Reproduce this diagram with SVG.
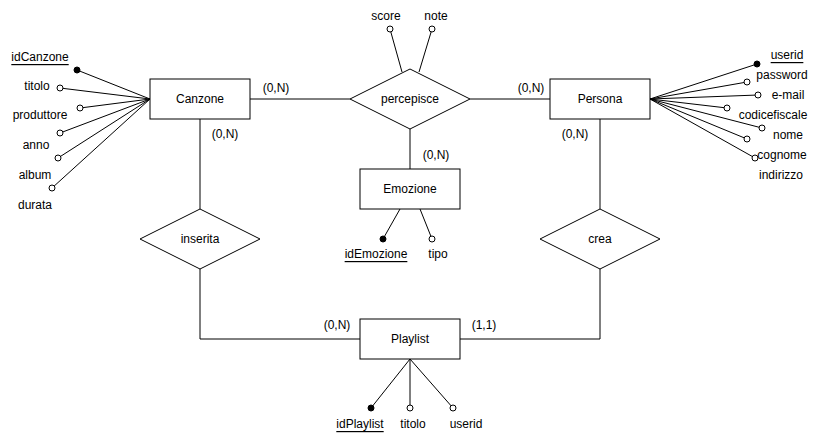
<svg xmlns="http://www.w3.org/2000/svg" width="817" height="439" viewBox="0 0 817 439">
<style>
.box{fill:#fff;stroke:#000;stroke-width:1}
.ln{fill:none;stroke:#000;stroke-width:1}
.t{font-family:"Liberation Sans",Arial,sans-serif;font-size:12px;fill:#000;text-anchor:middle;dominant-baseline:central}
.u{text-decoration:underline}
.o{fill:#fff;stroke:#000;stroke-width:1}
.f{fill:#000;stroke:#000;stroke-width:1}
</style>
<rect width="817" height="439" fill="#fff"/>
<g id="connectors">
<path class="ln" d="M250,99H350M470,99H550M410,129V169M200,119V209M200,269V339H360M600,119V209M600,269V339H460"/>
<path class="ln" d="M150,99L77,70M150,99L60,88M150,99L80,108M150,99L60,133M150,99L58,158M150,99L52,188"/>
<path class="ln" d="M650,99L757,64M650,99L747,82M650,99L758,95M650,99L727,108M650,99L762,128M650,99L747,139M650,99L755,158"/>
<path class="ln" d="M402,72L390,29M419,72L432,29"/>
<path class="ln" d="M400,209L383,239M420,209L432,239"/>
<path class="ln" d="M410,359L371,408M410,359L410,408M410,359L453,408"/>
<text class="t" x="276" y="88">(0,N)</text>
<text class="t" x="531" y="88">(0,N)</text>
<text class="t" x="436" y="155">(0,N)</text>
<text class="t" x="225" y="134">(0,N)</text>
<text class="t" x="575" y="134">(0,N)</text>
<text class="t" x="337" y="325">(0,N)</text>
<text class="t" x="484" y="325">(1,1)</text>
</g>
<g id="canzone">
<rect class="box" x="150" y="79" width="100" height="40"/>
<text class="t" x="200" y="99">Canzone</text>
<circle class="f" cx="77" cy="70" r="3"/>
<circle class="o" cx="60" cy="88" r="3"/>
<circle class="o" cx="80" cy="108" r="3"/>
<circle class="o" cx="60" cy="133" r="3"/>
<circle class="o" cx="58" cy="158" r="3"/>
<circle class="o" cx="52" cy="188" r="3"/>
<text class="t u" x="40" y="57">idCanzone</text>
<text class="t" x="37" y="86">titolo</text>
<text class="t" x="40" y="115">produttore</text>
<text class="t" x="36" y="145">anno</text>
<text class="t" x="35" y="175">album</text>
<text class="t" x="35" y="205">durata</text>
</g>
<g id="persona">
<rect class="box" x="550" y="79" width="100" height="40"/>
<text class="t" x="600" y="99">Persona</text>
<circle class="f" cx="757" cy="64" r="3"/>
<circle class="o" cx="747" cy="82" r="3"/>
<circle class="o" cx="758" cy="95" r="3"/>
<circle class="o" cx="727" cy="108" r="3"/>
<circle class="o" cx="762" cy="128" r="3"/>
<circle class="o" cx="747" cy="139" r="3"/>
<circle class="o" cx="755" cy="158" r="3"/>
<text class="t u" x="787" y="55">userid</text>
<text class="t" x="782" y="75">password</text>
<text class="t" x="788" y="95">e-mail</text>
<text class="t" x="773" y="115">codicefiscale</text>
<text class="t" x="788" y="135">nome</text>
<text class="t" x="782" y="155">cognome</text>
<text class="t" x="781" y="175">indirizzo</text>
</g>
<g id="percepisce">
<polygon class="box" points="350,99 410,69 470,99 410,129"/>
<text class="t" x="410" y="99">percepisce</text>
<circle class="o" cx="390" cy="29" r="3"/>
<circle class="o" cx="432" cy="29" r="3"/>
<text class="t" x="386" y="16">score</text>
<text class="t" x="436" y="16">note</text>
</g>
<g id="emozione">
<rect class="box" x="360" y="169" width="100" height="40"/>
<text class="t" x="410" y="189">Emozione</text>
<circle class="f" cx="383" cy="239" r="3"/>
<circle class="o" cx="432" cy="239" r="3"/>
<text class="t u" x="376" y="254">idEmozione</text>
<text class="t" x="438" y="254">tipo</text>
</g>
<g id="inserita">
<polygon class="box" points="140,239 200,209 260,239 200,269"/>
<text class="t" x="200" y="239">inserita</text>
</g>
<g id="crea">
<polygon class="box" points="540,239 600,209 660,239 600,269"/>
<text class="t" x="600" y="239">crea</text>
</g>
<g id="playlist">
<rect class="box" x="360" y="319" width="100" height="40"/>
<text class="t" x="410" y="339">Playlist</text>
<circle class="f" cx="371" cy="408" r="3"/>
<circle class="o" cx="410" cy="408" r="3"/>
<circle class="o" cx="453" cy="408" r="3"/>
<text class="t u" x="360" y="424">idPlaylist</text>
<text class="t" x="413" y="424">titolo</text>
<text class="t" x="466" y="424">userid</text>
</g>
</svg>
